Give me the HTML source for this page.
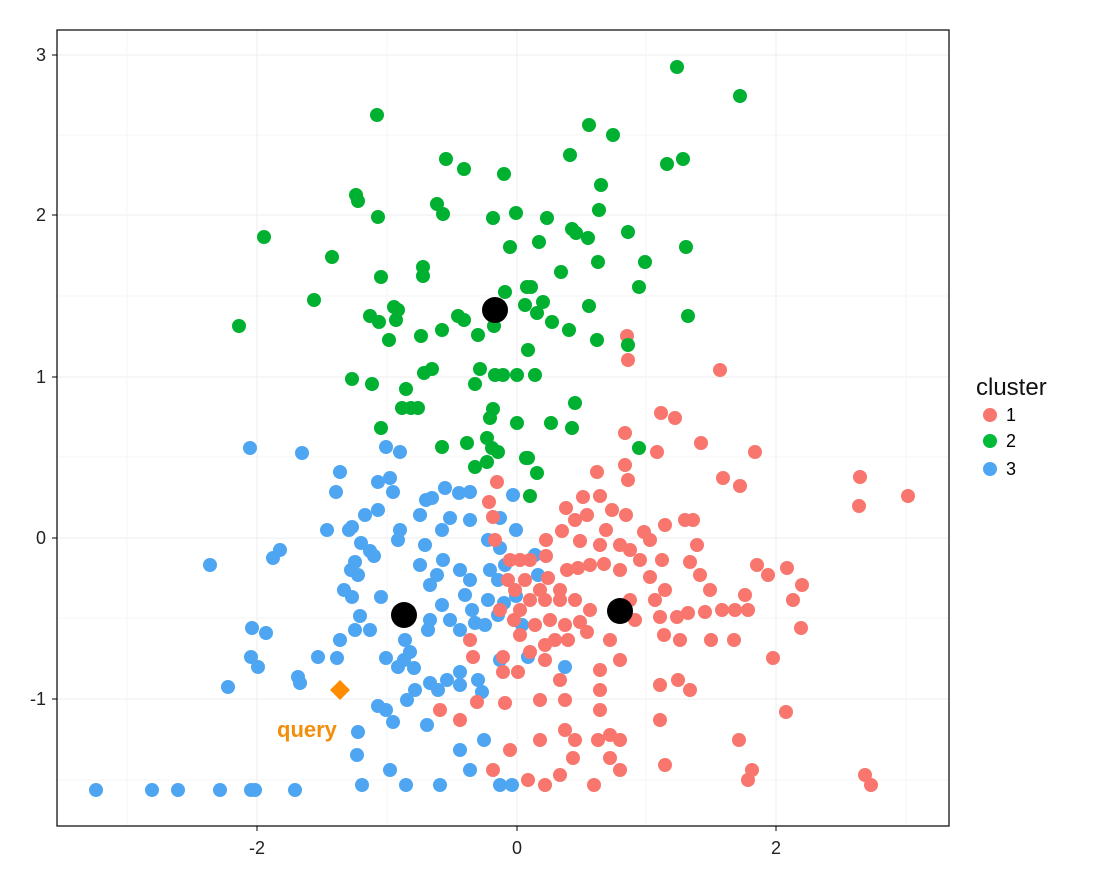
<!DOCTYPE html>
<html><head><meta charset="utf-8"><style>
html,body{margin:0;padding:0;background:#fff;}
svg{display:block;font-family:"Liberation Sans",sans-serif;}
</style></head><body>
<svg id="svg" width="1098" height="883" viewBox="0 0 1098 883" xmlns="http://www.w3.org/2000/svg">
<rect width="1098" height="883" fill="#fff"/>
<g stroke="#ececec" stroke-width="1">
<line x1="57" x2="949" y1="55" y2="55"/><line x1="57" x2="949" y1="215" y2="215"/>
<line x1="57" x2="949" y1="377" y2="377"/><line x1="57" x2="949" y1="538" y2="538"/>
<line x1="57" x2="949" y1="699" y2="699"/>
<line x1="57" x2="949" y1="135" y2="135" stroke="#f6f6f6"/><line x1="57" x2="949" y1="296" y2="296" stroke="#f6f6f6"/>
<line x1="57" x2="949" y1="457" y2="457" stroke="#f6f6f6"/><line x1="57" x2="949" y1="618" y2="618" stroke="#f6f6f6"/>
<line x1="57" x2="949" y1="780" y2="780" stroke="#f6f6f6"/>
<line y1="30" y2="826" x1="257" x2="257"/><line y1="30" y2="826" x1="517" x2="517"/><line y1="30" y2="826" x1="776" x2="776"/>
<line y1="30" y2="826" x1="127" x2="127" stroke="#f6f6f6"/><line y1="30" y2="826" x1="387" x2="387" stroke="#f6f6f6"/>
<line y1="30" y2="826" x1="646" x2="646" stroke="#f6f6f6"/><line y1="30" y2="826" x1="906" x2="906" stroke="#f6f6f6"/>
</g>
<g id="pts"></g>
<rect x="57" y="30" width="892" height="796" fill="none" stroke="#000" stroke-width="1.2"/>
<g stroke="#000" stroke-width="1">
<line x1="52" x2="57" y1="55" y2="55"/><line x1="52" x2="57" y1="215" y2="215"/><line x1="52" x2="57" y1="377" y2="377"/>
<line x1="52" x2="57" y1="538" y2="538"/><line x1="52" x2="57" y1="699" y2="699"/>
<line y1="826" y2="831" x1="257" x2="257"/><line y1="826" y2="831" x1="517" x2="517"/><line y1="826" y2="831" x1="776" x2="776"/>
</g>
<g font-size="18" fill="#222" text-anchor="end">
<text x="46" y="61">3</text><text x="46" y="221">2</text><text x="46" y="383">1</text><text x="46" y="544">0</text><text x="46" y="705">-1</text>
</g>
<g font-size="18" fill="#222" text-anchor="middle">
<text x="257" y="854">-2</text><text x="517" y="854">0</text><text x="776" y="854">2</text>
</g>
<text x="976" y="395" font-size="24" fill="#111">cluster</text>
<circle cx="990" cy="415" r="7" fill="#f8766d"/><text x="1006" y="421" font-size="18">1</text>
<circle cx="990" cy="441" r="7" fill="#00ba38"/><text x="1006" y="447" font-size="18">2</text>
<circle cx="990" cy="469" r="7" fill="#4ea6f2"/><text x="1006" y="475" font-size="18">3</text>
<text x="277" y="737" font-size="22" font-weight="bold" fill="#f28e0c">query</text>
</svg>
<script>
(function(){
var G=[677,67,740,96,377,115,589,125,613,135,570,155,446,159,683,159,464,169,667,164,504,174,601,185,356,195,358,201,264,237,378,217,443,214,437,204,516,213,493,218,547,218,599,210,572,229,576,233,588,238,628,232,539,242,510,247,332,257,381,277,423,267,423,276,561,272,598,262,645,262,686,247,639,287,314,300,505,292,527,287,531,287,543,302,589,306,394,307,398,310,370,316,396,320,525,305,537,313,552,322,458,316,464,320,442,330,239,326,379,322,389,340,421,336,478,335,494,326,569,330,597,340,628,345,528,350,688,316,480,369,495,375,503,375,517,375,535,375,424,373,432,369,475,384,352,379,372,384,406,389,402,408,411,408,418,408,493,409,575,403,381,428,517,423,490,418,551,423,572,428,467,443,442,447,487,438,492,448,498,452,528,458,537,473,475,467,487,462,530,496,639,448,526,458];
var R=[627,336,628,360,720,370,661,413,675,418,701,443,625,433,657,452,755,452,723,478,740,486,860,477,908,496,859,506,693,520,665,525,697,545,625,465,628,480,597,472,566,508,583,497,600,496,497,482,489,502,493,517,587,515,606,530,626,515,644,532,575,520,546,540,562,531,580,541,662,560,757,565,768,575,787,568,802,585,793,600,801,628,773,658,786,712,739,740,722,610,735,610,734,640,705,612,711,640,688,613,680,640,664,635,690,690,678,680,660,685,655,600,660,617,677,617,630,600,635,620,610,640,620,660,600,670,600,690,600,710,610,735,598,740,610,758,620,740,660,720,665,765,620,770,594,785,545,785,560,775,528,780,573,758,540,740,510,750,493,770,473,657,503,657,503,672,518,672,530,652,560,680,565,700,565,730,575,740,540,700,545,660,520,635,514,620,500,610,508,580,510,560,520,560,530,560,546,556,548,578,567,570,578,568,590,565,604,564,620,570,640,560,560,600,575,600,590,610,580,622,550,620,530,600,515,590,540,590,587,632,555,640,545,645,470,640,440,710,460,720,477,702,505,703,748,780,752,770,865,775,871,785,560,590,665,590,650,577,690,562,700,575,710,590,745,595,748,610,650,540,620,545,600,545,685,520,630,550,612,510,565,625,568,640,520,610,525,580,535,625,545,600,495,540];
var B=[250,448,302,453,386,447,400,452,340,472,336,492,378,482,390,478,393,492,378,510,365,515,352,527,349,530,327,530,361,543,370,551,374,556,400,530,398,540,280,550,273,558,210,565,355,562,351,570,358,575,344,590,352,597,381,597,360,616,355,630,370,630,340,640,252,628,266,633,251,657,258,667,318,657,337,658,386,658,410,652,405,640,404,660,414,668,398,667,430,683,447,680,460,685,298,677,300,683,228,687,378,706,386,710,393,722,427,725,358,732,357,755,390,770,406,785,440,785,96,790,152,790,178,790,220,790,251,790,255,790,295,790,362,785,470,770,460,750,484,740,500,785,512,785,426,500,432,498,445,488,459,493,450,518,470,492,442,530,470,520,500,518,513,495,420,515,425,545,420,565,443,560,437,575,430,585,460,570,470,580,490,570,498,580,488,600,465,595,472,610,450,620,430,620,442,605,428,630,460,630,475,623,485,625,498,615,504,603,522,625,516,596,500,548,516,530,488,540,500,660,528,657,460,672,478,680,482,692,438,690,415,690,407,700,565,667,538,575,535,555,505,565];
var NS="http://www.w3.org/2000/svg";
var g=document.getElementById('pts');
function c(x,y,r,f){var e=document.createElementNS(NS,'circle');e.setAttribute('cx',x);e.setAttribute('cy',y);e.setAttribute('r',r);e.setAttribute('fill',f);g.appendChild(e);}
function add(a,col){for(var i=0;i<a.length;i+=2)c(a[i],a[i+1],7,col);}
add(B,'#4ea6f2');add(R,'#f8766d');add(G,'#00b030');
c(495,310,13,'#000');c(404,615,13,'#000');c(620,611,13,'#000');
var p=document.createElementNS(NS,'polygon');p.setAttribute('points','340,680 350,690 340,700 330,690');p.setAttribute('fill','#ff8c00');g.appendChild(p);
})();
</script>
</body></html>
